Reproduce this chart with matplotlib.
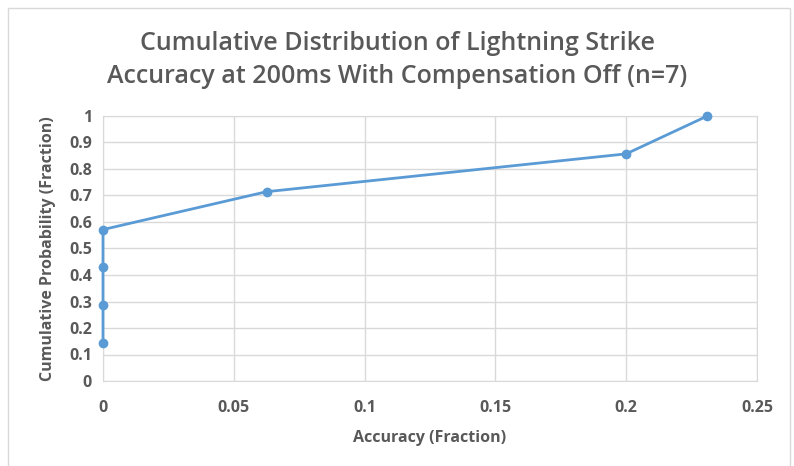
import numpy as np
import matplotlib.pyplot as plt
from matplotlib.patches import Rectangle

# data
accuracy = [0, 0, 0, 0, 0.0625, 0.2, 0.231]
cum_prob = [1/7, 2/7, 3/7, 4/7, 5/7, 6/7, 1.0]
x_ticks = [0, 0.05, 0.1, 0.15, 0.2, 0.25]
x_labels = ["0", "0.05", "0.1", "0.15", "0.2", "0.25"]
y_ticks = [0, 0.1, 0.2, 0.3, 0.4, 0.5, 0.6, 0.7, 0.8, 0.9, 1]
y_labels = ["0", "0.1", "0.2", "0.3", "0.4", "0.5", "0.6", "0.7", "0.8", "0.9", "1"]

title = "Cumulative Distribution of Lightning Strike\nAccuracy at 200ms With Compensation Off (n=7)"

text_col = "#595959"
line_col = "#5b9bd5"
grid_col = "#d9d9d9"

plt.rcParams['font.family'] = ['Open Sans', 'DejaVu Sans']

fig = plt.figure(figsize=(7.94, 4.66), dpi=100)
fig.patches.append(Rectangle((8/794, -0.01), (790-8)/794, 1 - 8/466 + 0.01,
                             transform=fig.transFigure, fill=False,
                             edgecolor=grid_col, linewidth=1))

ax = fig.add_axes([103/794, 1 - 381/466, (757-103)/794, (381-116)/466])
ax.plot(accuracy, cum_prob, color=line_col, linewidth=2, marker="o",
        markersize=6, zorder=3, clip_on=False)

ax.set_xlim(0, 0.25)
ax.set_ylim(0, 1)
ax.set_xticks(x_ticks)
ax.set_xticklabels(x_labels)
ax.set_yticks(y_ticks)
ax.set_yticklabels(y_labels)
ax.grid(True, color=grid_col, linewidth=1)
ax.set_axisbelow(True)
for s in ax.spines.values():
    s.set_color(grid_col)
ax.tick_params(length=0, colors=text_col, labelsize=11.5)
ax.tick_params(axis="x", pad=14)
ax.tick_params(axis="y", pad=8)
for lab in ax.get_xticklabels() + ax.get_yticklabels():
    lab.set_fontweight("bold")

ax.set_xlabel("Accuracy (Fraction)", color=text_col, fontsize=11.5,
              fontweight="bold", labelpad=10)
ax.set_ylabel("Cumulative Probability (Fraction)", color=text_col,
              fontsize=11.5, fontweight="bold", labelpad=9)

fig.text(0.5, 1 - 60/466, title, ha="center", va="center", fontsize=18,
         color=text_col, fontweight="semibold", linespacing=1.4)

fig.savefig("out.png", dpi=100)
